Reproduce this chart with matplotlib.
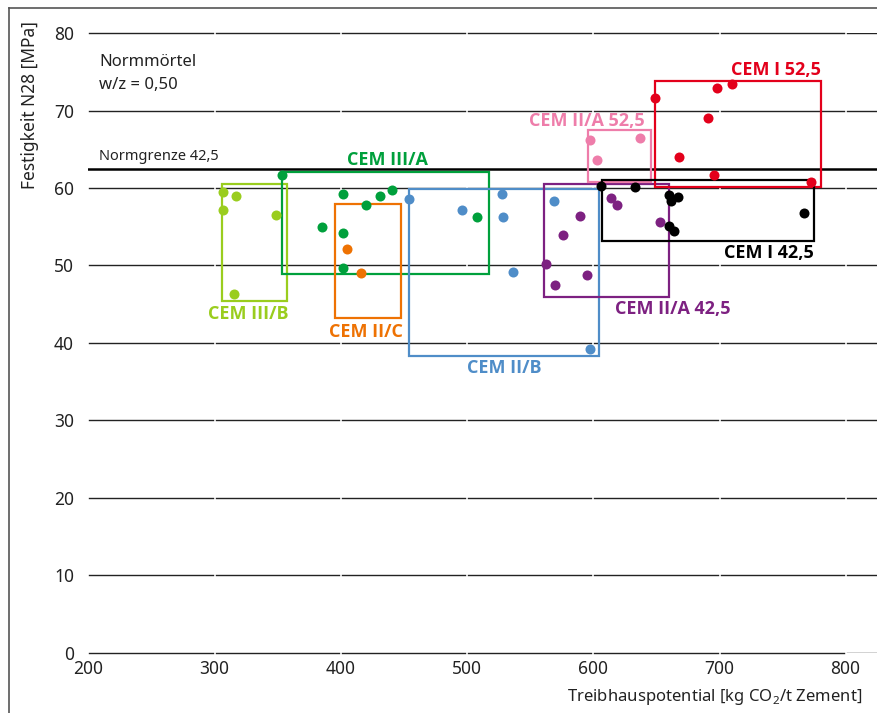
"""Festigkeit vs. Treibhauspotential fuer verschiedene Zementarten."""

import matplotlib.pyplot as plt
from matplotlib.lines import Line2D
from matplotlib.patches import Rectangle

plt.rcParams['font.family'] = ['Noto Sans', 'DejaVu Sans']
plt.rcParams['mathtext.fontset'] = 'custom'
plt.rcParams['mathtext.rm'] = 'Noto Sans'

# --- data (x = kg CO2/t Zement, y = MPa) ---
names = ['CEM III/B', 'CEM III/A', 'CEM II/C', 'CEM II/B',
         'CEM II/A 42,5', 'CEM II/A 52,5', 'CEM I 52,5', 'CEM I 42,5']
colors = ['#9acd1e', '#00a03c', '#ee7203', '#4f8dc8',
          '#7d2181', '#ee7daa', '#e3001b', '#000000']

iiib_x = [307, 317, 307, 349, 316]
iiib_y = [59.5, 59.0, 57.2, 56.5, 46.3]
iiia_x = [354, 402, 441, 431, 420, 385, 402, 402, 508]
iiia_y = [61.7, 59.2, 59.7, 59.0, 57.8, 55.0, 54.2, 49.7, 56.3]
iic_x = [405, 416]
iic_y = [52.1, 49.0]
iib_x = [454, 496, 528, 529, 537, 569, 598]
iib_y = [58.6, 57.2, 59.2, 56.3, 49.2, 58.3, 39.2]
iia42_x = [590, 576, 563, 595, 570, 614, 619, 653]
iia42_y = [56.4, 53.9, 50.2, 48.8, 47.5, 58.7, 57.8, 55.6]
iia52_x = [598, 637, 603]
iia52_y = [66.2, 66.5, 63.6]
i52_x = [649, 698, 710, 691, 668, 696, 773]
i52_y = [71.6, 72.9, 73.4, 69.0, 64.0, 61.7, 60.8]
i42_x = [606, 633, 660, 667, 662, 660, 664, 767]
i42_y = [60.3, 60.1, 59.1, 58.8, 58.3, 55.1, 54.5, 56.8]

# boxes: (x_min, x_max, y_min, y_max)
boxes = [(306, 358, 45.4, 60.5), (354, 518, 48.9, 62.1),
         (396, 448, 43.2, 57.9), (454, 605, 38.3, 59.9),
         (561, 660, 45.9, 60.5), (596, 646, 60.8, 67.5),
         (649, 781, 60.1, 73.8), (607, 775, 53.2, 61.0)]
# label anchor (x, y) for each group
label_pos = [(327, 43.7), (437, 63.6), (420, 41.4), (530, 36.8),
             (663, 44.4), (595, 68.6), (745, 75.2), (739, 51.6)]

xs = [iiib_x, iiia_x, iic_x, iib_x, iia42_x, iia52_x, i52_x, i42_x]
ys = [iiib_y, iiia_y, iic_y, iib_y, iia42_y, iia52_y, i52_y, i42_y]

norm_limit = 62.5
y_ticks = [0, 10, 20, 30, 40, 50, 60, 70, 80]
x_ticks = [200, 300, 400, 500, 600, 700, 800]

fig = plt.figure(figsize=(8.77, 7.13), dpi=100)
ax = fig.add_axes([0.1003, 0.0842, 0.8997, 0.8695])
ax.set_xlim(200, 825)
ax.set_ylim(0, 80)

# grid lines drawn in pieces with small gaps at each x tick
for y in y_ticks:
    for x0 in range(200, 900, 100):
        ax.plot([x0 + 1.2, x0 + 98.8], [y, y], color='#222222', lw=1,
                zorder=1, clip_on=(x0 + 98.8 > 826))
ax.axhline(norm_limit, color='black', lw=1.8, zorder=1)

for i in range(len(names)):
    x0, x1, y0, y1 = boxes[i]
    ax.add_patch(Rectangle((x0, y0), x1 - x0, y1 - y0, fill=False,
                           edgecolor=colors[i], lw=1.6, zorder=2))
for i in range(len(names)):
    ax.scatter(xs[i], ys[i], s=52, color=colors[i], zorder=3,
               linewidths=0)
    lx, ly = label_pos[i]
    ax.text(lx, ly, names[i], color=colors[i], fontsize=13,
            family=['Open Sans', 'DejaVu Sans'], fontweight='bold',
            ha='center', va='center', zorder=4)

ax.text(209, 76.3, 'Normmörtel', fontsize=12, va='center', color='#222222')
ax.text(209, 73.3, 'w/z = 0,50', fontsize=12, va='center', color='#222222')
ax.text(209, 64.1, 'Normgrenze 42,5', fontsize=10.5, va='center',
        color='#222222')

ax.set_yticks(y_ticks)
ax.set_xticks(x_ticks)
ax.tick_params(axis='both', length=0, labelsize=12.5, colors='#222222')
ax.tick_params(axis='y', pad=10)
ax.tick_params(axis='x', pad=5)
for s in ax.spines.values():
    s.set_visible(False)

fig.text(0.983, 0.022, r'Treibhauspotential [kg CO$_\mathregular{2}$/t Zement]',
         ha='right', va='center', fontsize=12, color='#222222')
fig.text(0.034, 0.97, 'Festigkeit N28 [MPa]', rotation=90, ha='center',
         va='top', fontsize=12.5, color='#222222')

# frame lines on the left and top of the figure
fig.add_artist(Line2D([0.0103, 0.0103], [0, 0.989], color='#555555', lw=1.2))
fig.add_artist(Line2D([0.0103, 1], [0.989, 0.989], color='#555555', lw=1.2))

fig.savefig('out.png', dpi=100)
